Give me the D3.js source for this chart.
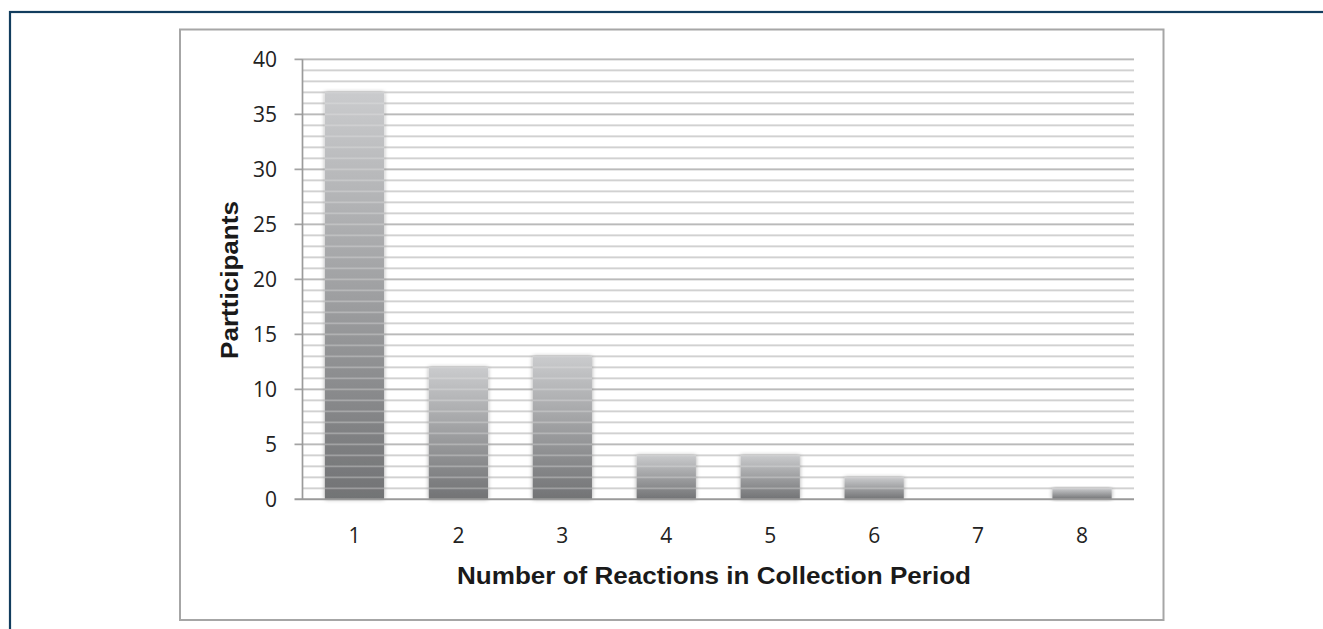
<!DOCTYPE html>
<html>
<head>
<meta charset="utf-8">
<script src="https://cdn.jsdelivr.net/npm/d3@7/dist/d3.min.js"></script>
<style>
  html, body { margin: 0; padding: 0; background: #fff; }
  svg { display: block; }
</style>
</head>
<body>
<svg id="chart" width="1323" height="629"></svg>
<script>
const categories = ["1", "2", "3", "4", "5", "6", "7", "8"];
const participants = [37, 12, 13, 4, 4, 2, 0, 1];
const yTicks = [0, 5, 10, 15, 20, 25, 30, 35, 40];
const xTitle = "Number of Reactions in Collection Period";
const yTitle = "Partticipants";

const svg = d3.select("#chart");

// outer page border
svg.append("rect").attr("x", 10).attr("y", 12).attr("width", 1340).attr("height", 660)
  .attr("fill", "none").attr("stroke", "#123d5e").attr("stroke-width", 2.2);

// chart frame
svg.append("rect").attr("x", 180).attr("y", 29.5).attr("width", 983.5).attr("height", 590.5)
  .attr("fill", "#fff").attr("stroke", "#a6a6a6").attr("stroke-width", 2);

const pLeft = 302.5, pRight = 1134, pTop = 59.3, pBottom = 499.3;

const x = d3.scaleBand().domain(categories).range([pLeft, pRight]).paddingInner(0.43).paddingOuter(0.215);
const y = d3.scaleLinear().domain([0, 40]).range([pBottom, pTop]);

const defs = svg.append("defs");
const grad = defs.append("linearGradient").attr("id", "barGrad")
  .attr("x1", 0).attr("y1", 0).attr("x2", 0).attr("y2", 1);
grad.append("stop").attr("offset", "0%").attr("stop-color", "#cacbcd");
grad.append("stop").attr("offset", "100%").attr("stop-color", "#727375");

const f = defs.append("filter").attr("id", "shadow").attr("x", "-20%").attr("y", "-20%").attr("width", "140%").attr("height", "140%");
f.append("feGaussianBlur").attr("in", "SourceAlpha").attr("stdDeviation", 2.2).attr("result", "b");
f.append("feComponentTransfer").attr("in", "b").attr("result", "b2")
  .append("feFuncA").attr("type", "linear").attr("slope", 0.35);
const m = f.append("feMerge");
m.append("feMergeNode").attr("in", "b2");
m.append("feMergeNode").attr("in", "SourceGraphic");

const gridVals = d3.range(1, 41);

function drawGrid(g, overlay) {
  g.selectAll("line").data(gridVals).join("line")
    .attr("x1", d => (d % 5 === 0 && !overlay) ? pLeft - 8 : pLeft)
    .attr("x2", pRight)
    .attr("y1", d => y(d)).attr("y2", d => y(d))
    .attr("stroke", d => overlay ? "#e4e4e4" : (d % 5 === 0 ? "#a3a3a3" : "#c6c6c6"))
    .attr("stroke-opacity", overlay ? 0.35 : 1)
    .attr("stroke-width", 1.7);
}

drawGrid(svg.append("g"), false);

// bars
svg.append("g").selectAll("rect").data(categories.map((c, i) => ({c, v: participants[i]})).filter(d => d.v > 0))
  .join("rect")
  .attr("x", d => x(d.c))
  .attr("y", d => y(d.v))
  .attr("width", x.bandwidth())
  .attr("height", d => y(0) - y(d.v))
  .attr("fill", "url(#barGrad)")
  .attr("filter", "url(#shadow)");

drawGrid(svg.append("g"), true);

// y axis line
svg.append("line").attr("x1", pLeft).attr("x2", pLeft).attr("y1", pTop).attr("y2", pBottom)
  .attr("stroke", "#9a9a9a").attr("stroke-width", 1.7);
// x axis line
svg.append("line").attr("x1", pLeft - 8).attr("x2", pRight).attr("y1", pBottom).attr("y2", pBottom)
  .attr("stroke", "#9a9a9a").attr("stroke-width", 1.9);

// y tick labels
svg.append("g").selectAll("text").data(yTicks).join("text")
  .attr("x", 277).attr("y", d => y(d)).attr("dy", "0.36em")
  .attr("text-anchor", "end")
  .attr("font-family", "'Open Sans', sans-serif").attr("font-size", 21)
  .attr("fill", "#222").text(d => d);

// x tick labels
svg.append("g").selectAll("text").data(categories).join("text")
  .attr("x", d => x(d) + x.bandwidth() / 2).attr("y", 543)
  .attr("text-anchor", "middle")
  .attr("font-family", "'Open Sans', sans-serif").attr("font-size", 21)
  .attr("fill", "#222").text(d => d);

// x title
svg.append("text").attr("x", 714).attr("y", 584)
  .attr("text-anchor", "middle")
  .attr("font-family", "'Liberation Sans', Arial, sans-serif").attr("font-weight", "bold")
  .attr("font-size", 23).attr("fill", "#1a1a1a")
  .attr("textLength", 514).attr("lengthAdjust", "spacingAndGlyphs")
  .text(xTitle);

// y title
svg.append("text").attr("transform", "translate(238,280) rotate(-90)")
  .attr("text-anchor", "middle")
  .attr("font-family", "'Liberation Sans', Arial, sans-serif").attr("font-weight", "bold")
  .attr("font-size", 23).attr("fill", "#1a1a1a")
  .attr("textLength", 158).attr("lengthAdjust", "spacingAndGlyphs")
  .text(yTitle);
</script>
</body>
</html>
